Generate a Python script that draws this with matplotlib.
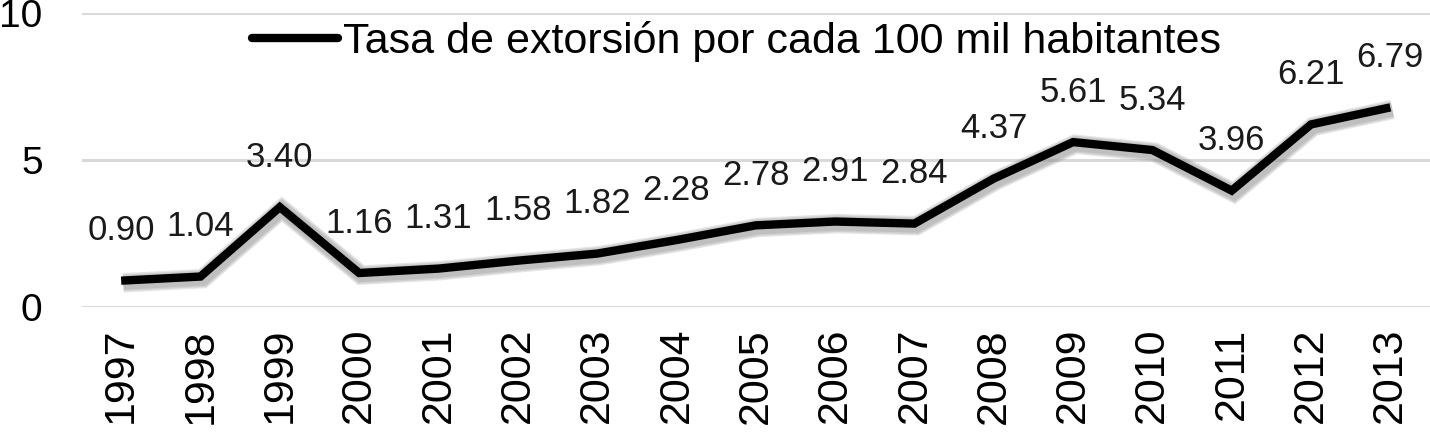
import numpy as np
import matplotlib.pyplot as plt
import matplotlib.patheffects as pe

plt.rcParams['font.family'] = ['Liberation Sans', 'DejaVu Sans']

years = ['1997', '1998', '1999', '2000', '2001', '2002', '2003', '2004', '2005',
         '2006', '2007', '2008', '2009', '2010', '2011', '2012', '2013']
tasa = [0.90, 1.04, 3.40, 1.16, 1.31, 1.58, 1.82, 2.28, 2.78,
        2.91, 2.84, 4.37, 5.61, 5.34, 3.96, 6.21, 6.79]
label_name = 'Tasa de extorsión por cada 100 mil habitantes'

fig = plt.figure(figsize=(14.3, 4.32), dpi=100)
ax = fig.add_axes([0.057, 0.289, 0.943, 0.681])

x = np.arange(len(years))
shadow = [pe.SimpleLineShadow(offset=(1.5, -1.5), shadow_color='#888888', alpha=0.22, linewidth=w)
          for w in (14, 12, 10)]
ax.plot(x, tasa, color='black', lw=6, solid_capstyle='butt', solid_joinstyle='miter',
        label=label_name, path_effects=shadow + [pe.Normal()])

for xi, v in zip(x, tasa):
    ax.annotate('%.2f' % v, (xi, v), xytext=(0, 36), textcoords='offset points',
                ha='center', va='center', fontsize=25, color='#1a1a1a')

ax.set_xlim(-0.5, len(years) - 0.5)
ax.set_ylim(0, 10)
ax.set_yticks([0, 5, 10])
ax.set_xticks(x)
ax.set_xticklabels(years, rotation=90, fontsize=31)
ax.tick_params(axis='y', labelsize=28, length=0, pad=28)
ax.tick_params(axis='x', length=0, pad=15)
ax.grid(axis='y', color='#d9d9d9', lw=2.2)
ax.set_axisbelow(True)
for s in ax.spines.values():
    s.set_visible(False)

leg = ax.legend(loc='center', bbox_to_anchor=(0.515, 0.903), bbox_transform=fig.transFigure,
                frameon=False, fontsize=31, handlelength=2.0, handletextpad=0.1)
for h in leg.get_lines():
    h.set_path_effects([])
    h.set_solid_capstyle('round')

plt.savefig('out.png', dpi=100)
plt.close()
